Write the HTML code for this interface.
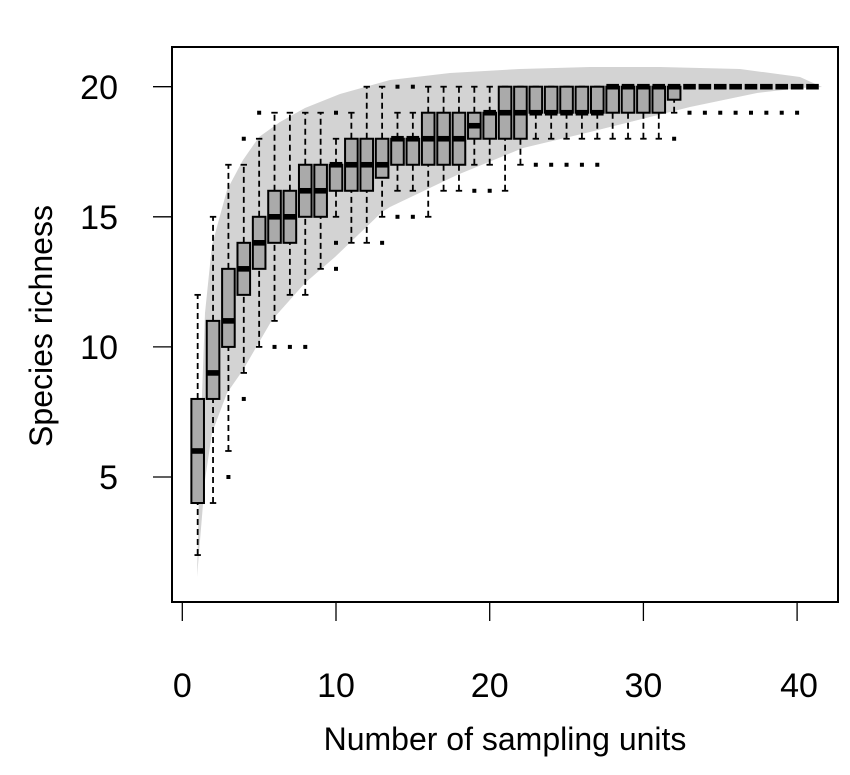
<!DOCTYPE html>
<html><head><meta charset="utf-8"><style>
html,body{margin:0;padding:0;background:#fff;}
svg{display:block;font-family:"Liberation Sans",Arial,sans-serif;}
</style></head><body>
<svg id="s" width="850" height="775" viewBox="0 0 850 775" xmlns="http://www.w3.org/2000/svg">
<rect width="850" height="775" fill="#fff"/>
<polygon fill="#d3d3d3" points="197,577 200,450 205,313 212,245 227,190 243,160 259,137 280,122 305,108 340,94 390,80 450,73 520,69 590,67 660,67 740,69 800,77 822,87 800,88 757,93 690,107 590,132 523,148 457,175 390,207 382,212 335,257 305,283 272,320 243,370 227,393 212,433 205,480 197,577"/>
<g id="g"></g>
<rect x="172" y="47" width="666" height="555" fill="none" stroke="#000" stroke-width="2"/>
<g stroke="#000" stroke-width="1.3">
<line x1="153" y1="86.7" x2="172" y2="86.7"/><line x1="153" y1="216.8" x2="172" y2="216.8"/>
<line x1="153" y1="346.9" x2="172" y2="346.9"/><line x1="153" y1="477" x2="172" y2="477"/>
<line x1="182.3" y1="602" x2="182.3" y2="621"/><line x1="336" y1="602" x2="336" y2="621"/>
<line x1="489.7" y1="602" x2="489.7" y2="621"/><line x1="643.4" y1="602" x2="643.4" y2="621"/>
<line x1="797.1" y1="602" x2="797.1" y2="621"/>
</g>
<g font-size="34" text-anchor="end" fill="#000">
<text x="118" y="99">20</text><text x="118" y="229">15</text><text x="118" y="359">10</text><text x="118" y="489">5</text>
</g>
<g font-size="34" text-anchor="middle" fill="#000">
<text x="182.3" y="697">0</text><text x="336" y="697">10</text><text x="489.7" y="697">20</text><text x="643.4" y="697">30</text><text x="799" y="697">40</text>
</g>
<text x="505" y="750" font-size="32" text-anchor="middle">Number of sampling units</text>
<text transform="translate(52,326) rotate(-90)" font-size="32" text-anchor="middle">Species richness</text>
</svg>
<script>
var D=[
[1,2,4,6,8,12,[]],[2,4,8,9,11,15,[]],[3,6,10,11,13,17,[5]],[4,9,12,13,14,17,[8,18]],
[5,10,13,14,15,18,[19]],[6,11,14,15,16,19,[10]],[7,12,14,15,16,19,[10]],[8,12,15,16,17,19,[10]],
[9,13,15,16,17,19,[]],[10,15,16,17,17,18,[19,14,13]],[11,14,16,17,18,19,[]],[12,14,16,17,18,20,[]],
[13,15,16.5,17,18,20,[14]],[14,16,17,18,18,19,[20,15]],[15,16,17,18,18,19,[20,15]],
[16,15,17,18,19,20,[]],[17,16,17,18,19,20,[]],[18,16,17,18,19,20,[]],[19,17,18,18.5,19,20,[16]],
[20,17,18,19,19,20,[16]],[21,16,18,19,20,20,[]],[22,17,18,19,20,20,[]]];
for(var i=23;i<=27;i++)D.push([i,18,19,19,20,20,[17]]);
for(var i=28;i<=31;i++)D.push([i,18,19,20,20,20,[]]);
D.push([32,19,19.5,20,20,20,[18]]);
for(var i=33;i<=41;i++)D.push([i,20,20,20,20,20,i<=40?[19]:[]]);
var X=function(n){return 182.3+15.37*n},Y=function(v){return 86.7+(20-v)*26.02};
var h='';
D.forEach(function(d){var x=X(d[0]),w=6.3,c=3.2;
 if(d[1]<d[2])h+='<line x1="'+x+'" y1="'+Y(d[1])+'" x2="'+x+'" y2="'+Y(d[2])+'" stroke="#000" stroke-width="1.8" stroke-dasharray="6,4"/>';
 if(d[5]>d[4])h+='<line x1="'+x+'" y1="'+Y(d[4])+'" x2="'+x+'" y2="'+Y(d[5])+'" stroke="#000" stroke-width="1.8" stroke-dasharray="6,4"/>';
 h+='<line x1="'+(x-c)+'" y1="'+Y(d[1])+'" x2="'+(x+c)+'" y2="'+Y(d[1])+'" stroke="#000" stroke-width="1.8"/>';
 h+='<line x1="'+(x-c)+'" y1="'+Y(d[5])+'" x2="'+(x+c)+'" y2="'+Y(d[5])+'" stroke="#000" stroke-width="1.8"/>';
 h+='<rect x="'+(x-w)+'" y="'+Y(d[4])+'" width="'+(2*w)+'" height="'+(Y(d[2])-Y(d[4]))+'" fill="#aaaaaa" stroke="#000" stroke-width="2"/>';
 h+='<rect x="'+(x-w)+'" y="'+(Y(d[3])-2.8)+'" width="'+(2*w)+'" height="5.6" fill="#000"/>';
 d[6].forEach(function(o){h+='<rect x="'+(x-2)+'" y="'+(Y(o)-2)+'" width="4" height="4" fill="#000"/>';});
});
document.getElementById('g').innerHTML=h;
</script>
</body></html>
